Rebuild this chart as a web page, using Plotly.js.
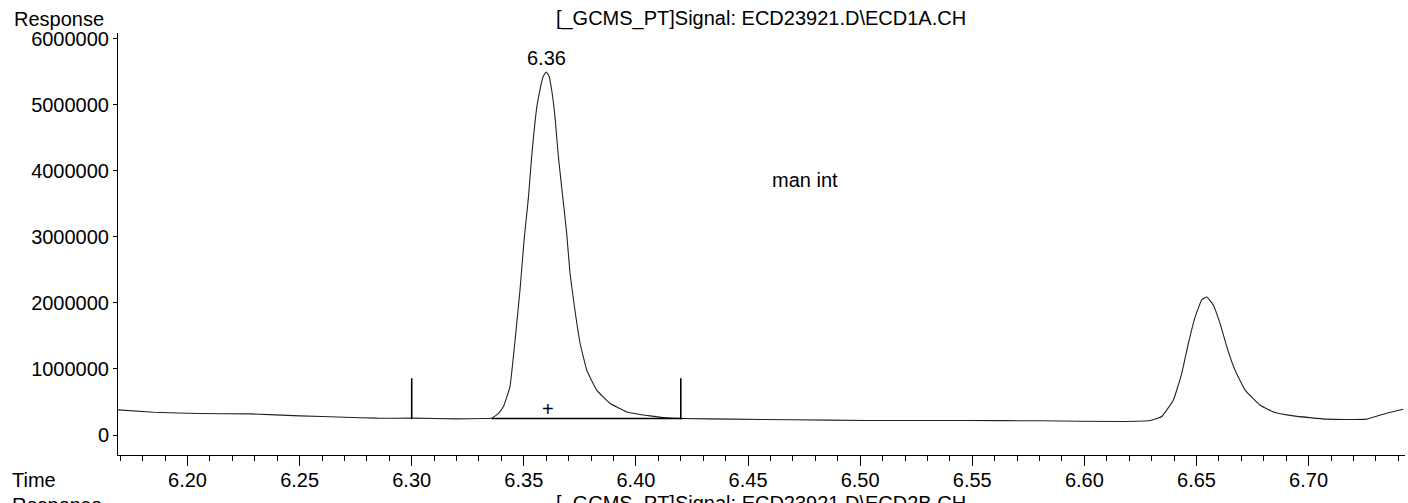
<!DOCTYPE html>
<html>
<head>
<meta charset="utf-8">
<script src="https://cdn.plot.ly/plotly-3.0.1.min.js"></script>
<style>
  html, body { margin: 0; padding: 0; background: #fff; }
  #chart { width: 1408px; height: 503px; }
</style>
</head>
<body>
<div id="chart"></div>
<script>
// Retention time (min) and detector response
const time = [
  6.169, 6.185, 6.2056, 6.2279, 6.2502, 6.27, 6.2844, 6.3006, 6.32, 6.3318,
  6.3357, 6.3385, 6.3409, 6.3438, 6.3461, 6.3483, 6.3501, 6.3520, 6.3535, 6.3558,
  6.3572, 6.3585, 6.3599, 6.3612, 6.3624, 6.3639, 6.3654, 6.3676, 6.3691, 6.3706,
  6.3728, 6.3751, 6.3781, 6.3825, 6.3884, 6.3959, 6.4063, 6.4152, 6.4207, 6.4433,
  6.47, 6.5029, 6.5475, 6.58, 6.6159, 6.6293, 6.6345, 6.6397, 6.6434, 6.6464,
  6.6494, 6.6524, 6.6546, 6.6575, 6.6605, 6.6635, 6.6672, 6.6717, 6.6784, 6.6851,
  6.6932, 6.7081, 6.7259, 6.7348, 6.7422
];
const response = [
  380000, 345000, 325000, 320000, 290000, 270000, 255000, 255000, 245000, 250000,
  255000, 320000, 430000, 730000, 1440000, 2200000, 2950000, 3580000, 4220000, 4970000,
  5230000, 5420000, 5500000, 5440000, 5230000, 4820000, 4220000, 3530000, 3060000, 2450000,
  1890000, 1390000, 980000, 680000, 480000, 350000, 290000, 255000, 250000, 240000,
  230000, 220000, 220000, 215000, 205000, 220000, 280000, 530000, 930000, 1390000,
  1790000, 2050000, 2090000, 1970000, 1690000, 1340000, 980000, 680000, 450000, 340000,
  290000, 240000, 240000, 330000, 390000
];

// Integration baseline and integration event markers
const baseTime = [6.3357, 6.4207];
const baseResp = [250000, 250000];
const eventTimes = [6.30, 6.42];
const eventLow = [240000, 240000];
const eventHigh = [860000, 860000];

// Peak label and annotation values
const peakRT = 6.36;
const peakTop = 5500000;
const peakLabel = '6.36';
const crossTime = 6.3608;
const crossResp = 400000;
const noteTime = 6.4598;
const noteResp = 3860000;
const noteText = 'man int';

// Axis ticks
const yTicks = [0, 1000000, 2000000, 3000000, 4000000, 5000000, 6000000];
const yTickText = ['0', '1000000', '2000000', '3000000', '4000000', '5000000', '6000000'];

const titleTop = '[_GCMS_PT]Signal: ECD23921.D\\ECD1A.CH';
const titleBottom = '[_GCMS_PT]Signal: ECD23921.D\\ECD2B.CH';

const FONT = '"Liberation Sans", Arial, Helvetica, sans-serif';

const traces = [
  {
    x: time, y: response, type: 'scatter', mode: 'lines',
    line: { color: '#222', width: 1.1, shape: 'spline', smoothing: 0.35 },
    hoverinfo: 'skip'
  },
  {
    x: baseTime, y: baseResp, type: 'scatter', mode: 'lines',
    line: { color: '#000', width: 1.6 }, hoverinfo: 'skip'
  }
];
eventTimes.forEach((t, i) => {
  traces.push({
    x: [t, t], y: [eventLow[i], eventHigh[i]], type: 'scatter', mode: 'lines',
    line: { color: '#000', width: 1.6 }, hoverinfo: 'skip'
  });
});

const H = 422, B = 455; // plot height and bottom pixel
const py = (px) => (B - px) / H;
const W = 1287, L = 118;
const pxX = (px) => (px - L) / W;

const layout = {
  width: 1408, height: 503,
  margin: { l: 118, r: 3, t: 33, b: 48 },
  paper_bgcolor: '#fff', plot_bgcolor: '#fff',
  showlegend: false,
  font: { family: FONT, size: 20, color: '#000' },
  title: {
    text: titleTop,
    font: { family: FONT, size: 20, color: '#000' },
    x: 761 / 1408, xanchor: 'center', xref: 'container',
    y: 1 - 18 / 503, yanchor: 'middle', yref: 'container'
  },
  xaxis: {
    range: [6.169, 6.743],
    tick0: 6.2, dtick: 0.05, tickformat: '.2f',
    ticks: 'outside', ticklen: 10, tickwidth: 1, tickcolor: '#000',
    ticklabelstandoff: -3,
    minor: { tick0: 6.2, dtick: 0.01, ticks: 'outside', ticklen: 5, tickwidth: 1, tickcolor: '#000' },
    showline: true, linecolor: '#000', linewidth: 1,
    showgrid: false, zeroline: false,
    tickfont: { family: FONT, size: 20, color: '#000' }
  },
  yaxis: {
    range: [-303000, 6090000],
    tickvals: yTicks, ticktext: yTickText,
    ticks: 'outside', ticklen: 4, tickwidth: 1, tickcolor: '#000',
    showline: true, linecolor: '#000', linewidth: 1,
    showgrid: false, zeroline: false,
    tickfont: { family: FONT, size: 20, color: '#000' }
  },
  annotations: [
    { x: peakRT, y: peakTop, xref: 'x', yref: 'y', text: peakLabel, showarrow: false,
      yanchor: 'bottom', yshift: 1, font: { family: FONT, size: 20, color: '#000' } },
    { x: crossTime, y: crossResp, xref: 'x', yref: 'y', text: '+', showarrow: false,
      font: { family: FONT, size: 20, color: '#000' } },
    { x: noteTime, y: noteResp, xref: 'x', yref: 'y', text: noteText, showarrow: false,
      xanchor: 'left', font: { family: FONT, size: 20, color: '#000' } },
    { x: pxX(12), y: py(19), xref: 'paper', yref: 'paper', text: 'Response', showarrow: false,
      xanchor: 'left', yanchor: 'middle', font: { family: FONT, size: 20, color: '#000' } },
    { x: pxX(10), y: py(480), xref: 'paper', yref: 'paper', text: 'Time', showarrow: false,
      xanchor: 'left', yanchor: 'middle', font: { family: FONT, size: 20, color: '#000' } },
    { x: pxX(10), y: py(505), xref: 'paper', yref: 'paper', text: 'Response', showarrow: false,
      xanchor: 'left', yanchor: 'middle', font: { family: FONT, size: 20, color: '#000' } },
    { x: pxX(761), y: py(503), xref: 'paper', yref: 'paper', text: titleBottom, showarrow: false,
      xanchor: 'center', yanchor: 'middle', font: { family: FONT, size: 20, color: '#000' } }
  ]
};

Plotly.newPlot('chart', traces, layout, { staticPlot: true, displayModeBar: false });
</script>
</body>
</html>
